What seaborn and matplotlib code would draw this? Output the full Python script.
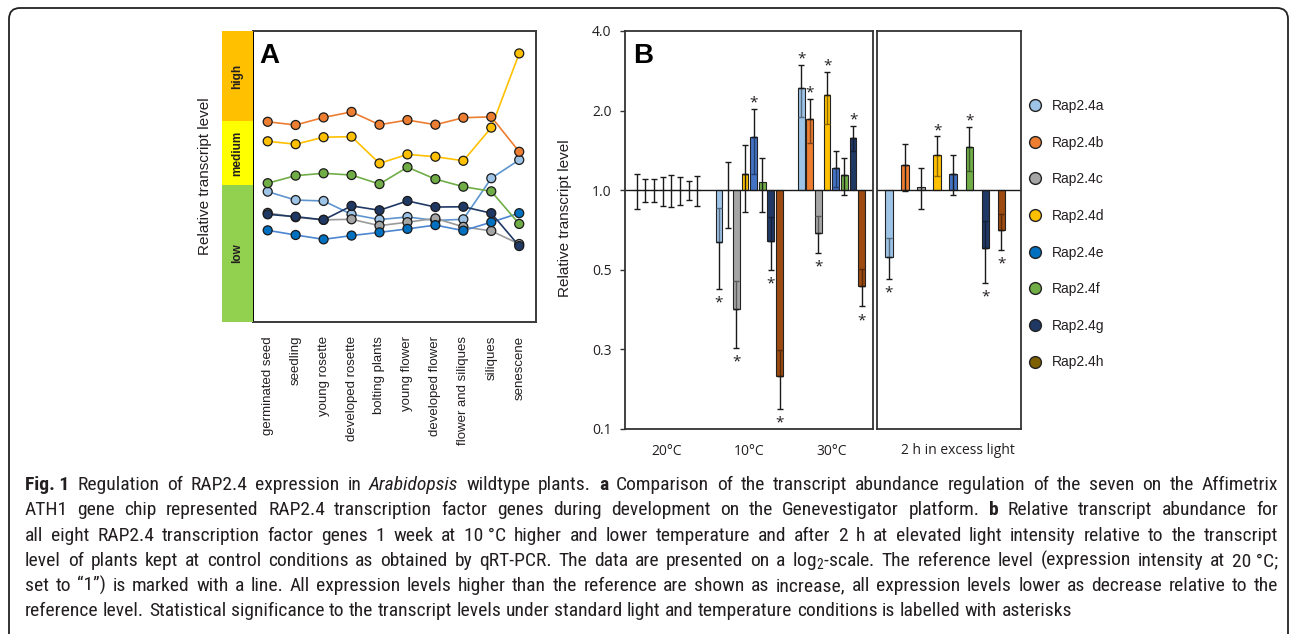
import numpy as np
import pandas as pd
import matplotlib
matplotlib.use("Agg")
import matplotlib.pyplot as plt
import seaborn as sns
import matplotlib.colors as mcolors
from matplotlib import font_manager as fm
from matplotlib.lines import Line2D
from matplotlib.patches import FancyBboxPatch
from matplotlib.transforms import IdentityTransform
from matplotlib.ticker import NullLocator, FixedLocator

# ---------------- data: panel A ----------------
stages = ["germinated seed", "seedling", "young rosette", "developed rosette",
          "bolting plants", "young flower", "developed flower",
          "flower and siliques", "siliques", "senescene"]
genes_a = ["Rap2.4a", "Rap2.4b", "Rap2.4c", "Rap2.4d", "Rap2.4e", "Rap2.4f", "Rap2.4g"]
lvl_a = [44.8, 41.9, 41.6, 37.0, 35.2, 36.1, 34.9, 35.3, 49.4, 55.7]
lvl_b = [68.8, 67.7, 70.3, 72.2, 67.8, 69.4, 67.8, 70.2, 70.5, 58.5]
lvl_c = [37.5, 36.0, 35.1, 35.3, 33.1, 34.3, 35.6, 32.7, 31.3, 26.8]
lvl_d = [62.1, 61.1, 63.5, 63.7, 54.5, 57.6, 56.8, 55.4, 66.8, 92.3]
lvl_e = [31.5, 29.9, 28.4, 29.7, 30.8, 32.0, 33.3, 31.4, 34.3, 37.4]
lvl_f = [47.7, 50.3, 51.1, 50.5, 47.4, 53.2, 49.1, 46.5, 44.9, 33.7]
lvl_g = [37.0, 36.2, 35.1, 39.9, 38.4, 41.6, 39.5, 39.6, 37.4, 26.1]
band_labels = ["low", "medium", "high"]
band_edges = [0, 47.1, 69.1, 100]
band_colors = ["#92D050", "#FFFF00", "#FFC000"]

# ---------------- data: panel B ----------------
genes = ["Rap2.4a", "Rap2.4b", "Rap2.4c", "Rap2.4d", "Rap2.4e", "Rap2.4f", "Rap2.4g", "Rap2.4h"]
conditions = ["20°C", "10°C", "30°C"]
val_20 = [1.0, 1.0, 1.0, 1.0, 1.0, 1.0, 1.0, 1.0]
err_20 = [0.15, 0.10, 0.10, 0.125, 0.137, 0.123, 0.082, 0.13]
sig_20 = [0, 0, 0, 0, 0, 0, 0, 0]
val_10 = [0.639, 1.0, 0.354, 1.155, 1.587, 1.078, 0.645, 0.199]
err_10 = [0.215, 0.28, 0.10, 0.33, 0.44, 0.25, 0.144, 0.05]
sig_10 = [1, 0, 1, 0, 1, 0, 1, 1]
val_30 = [2.434, 1.861, 0.689, 2.297, 1.217, 1.141, 1.579, 0.434]
err_30 = [0.55, 0.35, 0.11, 0.51, 0.19, 0.185, 0.175, 0.07]
sig_30 = [1, 1, 1, 1, 0, 0, 1, 1]
light_label = "2 h in excess light"
val_light = [0.561, 1.245, 1.032, 1.362, 1.155, 1.46, 0.605, 0.705]
err_light = [0.10, 0.255, 0.18, 0.235, 0.20, 0.275, 0.158, 0.11]
sig_light = [1, 0, 0, 1, 0, 1, 1, 1]
ytick_vals = [0.125, 0.25, 0.5, 1.0, 2.0, 4.0]
ytick_labels = ["0.1", "0.3", "0.5", "1.0", "2.0", "4.0"]

# ---------------- style ----------------
sns.set_theme(style="white")
plt.rcParams["font.family"] = ["Liberation Sans", "DejaVu Sans"]
plt.rcParams["axes.unicode_minus"] = False

names = {f.name for f in fm.fontManager.ttflist}
cap_family = "Open Sans"
for cand in ["Roboto Condensed", "Liberation Sans Narrow", "Open Sans Condensed", "Roboto"]:
    if cand in names:
        cap_family = cand
        break
plt.rcParams["mathtext.fontset"] = "custom"
plt.rcParams["mathtext.rm"] = cap_family
plt.rcParams["mathtext.it"] = cap_family + ":italic"
plt.rcParams["mathtext.bf"] = cap_family + ":bold"
plt.rcParams["mathtext.default"] = "regular"

TXT = "#231F20"
W_PX, H_PX = 1290, 634
fig = plt.figure(figsize=(W_PX / 100, H_PX / 100), dpi=100)
fig.patch.set_facecolor("white")


def rect(l, t, r, b):
    return [l / W_PX, 1 - b / H_PX, (r - l) / W_PX, (b - t) / H_PX]


axA = fig.add_axes(rect(253, 31, 536, 322))
cbA = fig.add_axes(rect(222, 31, 253, 322))
axB = fig.add_axes(rect(625, 31, 873, 429))
axL = fig.add_axes(rect(877, 31, 1021, 429))

# ---------------- panel A ----------------
levels = dict(zip(genes_a, [lvl_a, lvl_b, lvl_c, lvl_d, lvl_e, lvl_f, lvl_g]))
dfA = pd.DataFrame([(g, i, s, v) for g in genes_a
                    for i, (s, v) in enumerate(zip(stages, levels[g]))],
                   columns=["gene", "pos", "stage", "level"])
line_pal = dict(zip(genes_a, ["#5E95CF", "#ED7D31", "#9A9A9A", "#FFC000",
                              "#4C86D0", "#70AD47", "#1F3864"]))
mark_pal = dict(zip(genes_a, ["#9DC3E6", "#ED7D31", "#A5A5A5", "#FFC000",
                              "#0070C0", "#70AD47", "#203864"]))
sns.lineplot(data=dfA, x="pos", y="level", hue="gene", palette=line_pal,
             linewidth=1.2, legend=False, ax=axA, estimator=None, sort=False)
sns.scatterplot(data=dfA, x="pos", y="level", hue="gene", palette=mark_pal,
                s=42, edgecolor="#1a1a1a", linewidth=0.9, legend=False, ax=axA, zorder=3)
axA.set_xlim(-0.526, 9.6)
axA.set_ylim(0, 100)
axA.set_yticks([])
axA.set_xticks(range(len(stages)))
axA.set_xticklabels(stages, rotation=90, fontsize=9.5, color=TXT)
axA.tick_params(axis="x", length=0, pad=10)
axA.set_xlabel("")
axA.set_ylabel("")
for sp in axA.spines.values():
    sp.set_color("#3a3a3a")
    sp.set_linewidth(1.4)
axA.spines["left"].set_color("black")

for lo, hi, c, lab in zip(band_edges[:-1], band_edges[1:], band_colors, band_labels):
    cbA.axhspan(lo, hi, color=c, lw=0)
    cbA.text(0.5, (lo + hi) / 2, lab, rotation=90, ha="center", va="center",
             fontsize=8.5, fontweight="bold", color=TXT)
cbA.set_xlim(0, 1)
cbA.set_ylim(0, 100)
cbA.set_xticks([])
cbA.set_yticks([])
for sp in cbA.spines.values():
    sp.set_visible(False)
cbA.set_ylabel("Relative transcript level", fontsize=11, color=TXT, va="center")
cbA.yaxis.set_label_coords(-0.55, 0.5)

fig.text(259 / W_PX, 1 - 63.3 / H_PX, "A", fontsize=20, fontweight="bold",
         ha="left", va="baseline", color="black")

# ---------------- panel B ----------------
bar_cols = ["#9DC3E6", "#ED7D31", "#A5A5A5", "#FFC000", "#4472C4", "#70AD47", "#203864", "#9C4A10"]


def darker(c, f=0.55):
    r, g, b = mcolors.to_rgb(c)
    return (r * f, g * f, b * f)


def draw_group(ax, xs, vals, errs, sigs, width, cap):
    for x, v, e, s, c in zip(xs, vals, errs, sigs, bar_cols):
        ax.bar(x, v - 1, bottom=1, width=width, color=c, edgecolor="#222222",
               linewidth=0.8, zorder=2)
        ekw = dict(fmt="none", elinewidth=1.0, capsize=cap, capthick=1.0, zorder=3)
        if abs(np.log2(v)) < 0.12:
            ax.errorbar(x, v, yerr=e, ecolor="#1a1a1a", **ekw)
        else:
            up = v > 1
            outer = [[0], [e]] if up else [[e], [0]]
            inner = [[e], [0]] if up else [[0], [e]]
            crosses = (v - e < 1) if up else (v + e > 1)
            ax.errorbar(x, v, yerr=inner, ecolor="#1a1a1a" if crosses else darker(c), **ekw)
            ax.errorbar(x, v, yerr=outer, ecolor="#1a1a1a", **ekw)
        if s:
            if v > 1:
                ax.annotate("*", (x, v + e), xytext=(0, 1.7), textcoords="offset points",
                            ha="center", va="baseline", fontsize=11, color=TXT,
                            family="Open Sans", annotation_clip=False)
            else:
                ax.annotate("*", (x, v - e), xytext=(0, -12.8), textcoords="offset points",
                            ha="center", va="baseline", fontsize=11, color=TXT,
                            family="Open Sans", annotation_clip=False)


group_step = 9.5
for gi, (vals, errs, sigs) in enumerate([(val_20, err_20, sig_20),
                                          (val_10, err_10, sig_10),
                                          (val_30, err_30, sig_30)]):
    xs = [gi * group_step + i for i in range(len(genes))]
    draw_group(axB, xs, vals, errs, sigs, 0.78, 2.2)

draw_group(axL, list(range(len(genes))), val_light, err_light, sig_light, 0.46, 2.2)

for ax in (axB, axL):
    ax.set_yscale("log", base=2)
    ax.set_ylim(ytick_vals[0], ytick_vals[-1])
    ax.axhline(1.0, color="#1a1a1a", lw=1.0, zorder=2.5)
    ax.yaxis.set_minor_locator(NullLocator())
    for sp in ax.spines.values():
        sp.set_color("#333333")
        sp.set_linewidth(1.3)

axB.set_xlim(-1.35, 27.3)
axB.yaxis.set_major_locator(FixedLocator(ytick_vals))
axB.set_yticklabels(ytick_labels, family="Open Sans", fontsize=10, color=TXT)
axB.tick_params(axis="y", left=True, length=3.6, width=1.0, color="#333333", pad=6)
axB.set_xticks([gi * group_step + 3.5 for gi in range(len(conditions))])
axB.set_xticklabels(conditions, family="Open Sans", fontsize=10, color=TXT)
axB.tick_params(axis="x", length=0, pad=11)
axB.set_ylabel("Relative transcript level", fontsize=11, color=TXT, va="center")
axB.yaxis.set_label_coords(-0.242, 0.53)

axL.set_xlim(-0.75, 8.23)
axL.set_yticks([])
axL.set_xticks([])
axL.text(0.559, -0.053, light_label, transform=axL.transAxes, ha="center", va="center",
         family="Open Sans", fontsize=10, color=TXT)

fig.text(632.7 / W_PX, 1 - 63.3 / H_PX, "B", fontsize=20, fontweight="bold",
         ha="left", va="baseline", color="black")

leg_cols = ["#9DC3E6", "#ED7D31", "#A5A5A5", "#FFC000", "#0070C0", "#70AD47", "#1F3864", "#7F6000"]
handles = [Line2D([], [], marker="o", ls="", markersize=8.5, markerfacecolor=c,
                  markeredgecolor="#222222", markeredgewidth=1.0) for c in leg_cols]
fig.legend(handles, genes, loc="upper left", bbox_to_anchor=(1028 / W_PX, 1 - 99 / H_PX),
           frameon=False, fontsize=10, labelspacing=1.63, handlelength=1.0,
           handletextpad=0.75, borderpad=0, borderaxespad=0, labelcolor=TXT)

# ---------------- frame ----------------
frame = FancyBboxPatch((9, -30), 1279, (H_PX - 8) + 30,
                       boxstyle="round,pad=0,rounding_size=11",
                       transform=IdentityTransform(), fill=False,
                       edgecolor="#222222", linewidth=1.3, clip_on=False)
fig.add_artist(frame)

# ---------------- caption ----------------
cap_lines = [
    "!Fig.~1 Regulation of RAP2.4 expression in ^Arabidopsis wildtype plants. !a Comparison of the transcript abundance regulation of the seven on the Affimetrix",
    "ATH1 gene chip represented RAP2.4 transcription factor genes during development on the Genevestigator platform. !b Relative transcript abundance for",
    "all eight RAP2.4 transcription factor genes 1 week at 10~°C higher and lower temperature and after 2 h at elevated light intensity relative to the transcript",
    "level of plants kept at control conditions as obtained by qRT-PCR. The data are presented on a log$_2$-scale. The reference level (expression intensity at 20~°C;",
    "set to “1”) is marked with a line. All expression levels higher than the reference are shown as increase, all expression levels lower as decrease relative to the",
    "reference level. Statistical significance to the transcript levels under standard light and temperature conditions is labelled with asterisks",
]
renderer = fig.canvas.get_renderer()


def parse(word):
    kw = dict(family=cap_family)
    if word.startswith("!"):
        kw["weight"] = "bold"
        word = word[1:]
    elif word.startswith("^"):
        kw["style"] = "italic"
        word = word[1:]
    return word.replace("~", " "), kw


def measure(s, size, kw):
    t = fig.text(0, 0, s, fontsize=size, **kw)
    w = t.get_window_extent(renderer).width
    t.remove()
    return w


cap_left, cap_right = 25, 1278
target = cap_right - cap_left
base = 10.0
space10 = measure("a a", base, dict(family=cap_family)) - measure("aa", base, dict(family=cap_family))
nat = []
for line in cap_lines:
    ws = [parse(w) for w in line.split(" ")]
    tot = sum(measure(s, base, kw) for s, kw in ws) + space10 * (len(ws) - 1)
    nat.append(tot)
fs = min(14.0, base * min(target / n for n in nat) * 0.995)
space = measure("a a", fs, dict(family=cap_family)) - measure("aa", fs, dict(family=cap_family))

y0, dy = 490.0, 25.3
for li, line in enumerate(cap_lines):
    ws = [parse(w) for w in line.split(" ")]
    widths = [measure(s, fs, kw) for s, kw in ws]
    if li < len(cap_lines) - 1:
        gap = (target - sum(widths)) / (len(ws) - 1)
    else:
        gap = space
    x = cap_left
    yb = y0 + li * dy
    for (s, kw), w in zip(ws, widths):
        fig.text(x / W_PX, 1 - yb / H_PX, s, fontsize=fs, ha="left", va="baseline",
                 color=TXT, **kw)
        x += w + gap

fig.savefig("out.png", dpi=100, facecolor="white")
